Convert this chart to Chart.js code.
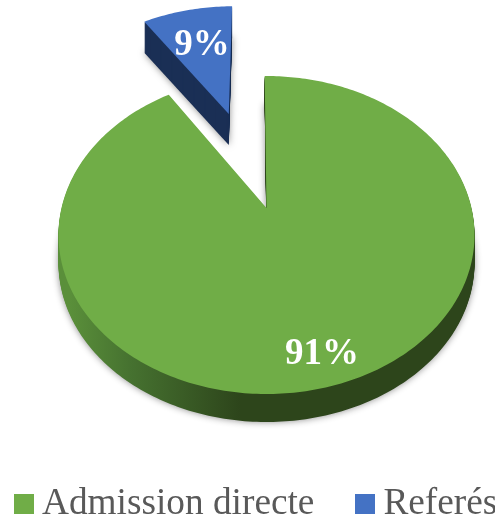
<!DOCTYPE html>
<html>
<head>
<meta charset="utf-8">
<script src="https://cdn.jsdelivr.net/npm/chart.js@4"></script>
<style>
  html, body { margin: 0; background: #fff; overflow: hidden; width: 495px; height: 519px; }
  #wrap { position: relative; width: 495px; height: 519px; overflow: hidden; }
  #legend { position: absolute; left: 14px; top: 481px; display: flex; white-space: nowrap;
            font: 37.3px "Liberation Serif", serif; color: #595959; line-height: 42px; }
  #legend .item { display: flex; align-items: center; margin-right: 41px; }
  #legend .box { width: 20px; height: 20px; margin-right: 8px; position: relative; top: 2px; }
</style>
</head>
<body>
<div id="wrap">
  <canvas id="pie" width="495" height="519"></canvas>
  <div id="legend"></div>
</div>
<script>
const categories = ["Admission directe", "Referés"];
const shares = [91, 9];
const faceColors = ["#70ad47", "#4472c4"];
const exploded = [0, 71];
const labelDistance = [0.838, 0.66];
const labelNudge = [-2, 2];
const thickness = [28, 31];

// tilted disc with a little perspective, the far side shrinks
const tilt = { halfWidth: 205, depthScale: 154.4, persp: 0.17 };

function project(arc, u, v) {
  const w = 1 - tilt.persp * v;
  return [arc.x + tilt.halfWidth * u / w, arc.y + tilt.depthScale * v / w];
}

function tracePath(ctx, arc, dy) {
  const r = arc.outerRadius;
  const mid = (arc.startAngle + arc.endAngle) / 2;
  const off = arc.options.offset / r;
  const ox = Math.cos(mid) * off;
  const oy = Math.sin(mid) * off;
  const tip = project(arc, ox, oy);
  ctx.beginPath();
  ctx.moveTo(tip[0], tip[1] + dy);
  const steps = Math.ceil((arc.endAngle - arc.startAngle) * 60);
  for (let i = 0; i <= steps; i++) {
    const a = arc.startAngle + (arc.endAngle - arc.startAngle) * i / steps;
    const p = project(arc, ox + Math.cos(a), oy + Math.sin(a));
    ctx.lineTo(p[0], p[1] + dy);
  }
  ctx.closePath();
}

const tiltedPie = {
  id: "tiltedPie",
  beforeDatasetsDraw(chart) {
    const ctx = chart.ctx;
    const arcs = chart.getDatasetMeta(0).data;

    const sideGreen = ctx.createLinearGradient(70, 0, 240, 0);
    sideGreen.addColorStop(0, "#5a8f3a");
    sideGreen.addColorStop(0.35, "#467230");
    sideGreen.addColorStop(1, "#2d451b");
    const sideColors = [sideGreen, "#1a2f55"];

    arcs.forEach((arc, i) => {
      // soft shadow under the bottom rim
      ctx.save();
      ctx.shadowColor = "rgba(0,0,0,0.45)";
      ctx.shadowBlur = 7;
      tracePath(ctx, arc, thickness[i]);
      ctx.fillStyle = sideColors[i];
      ctx.fill();
      ctx.restore();

      // side wall, swept down from the face
      ctx.fillStyle = sideColors[i];
      for (let dy = thickness[i] - 1; dy > 0; dy--) {
        tracePath(ctx, arc, dy);
        ctx.fill();
      }

      tracePath(ctx, arc, 0);
      ctx.fillStyle = arc.options.backgroundColor;
      ctx.fill();

      // value label on the face
      const mid = (arc.startAngle + arc.endAngle) / 2;
      const rad = arc.options.offset / arc.outerRadius + labelDistance[i];
      const p = project(arc, Math.cos(mid) * rad, Math.sin(mid) * rad);
      ctx.fillStyle = "#fff";
      ctx.font = 'bold 37px "Liberation Serif", serif';
      ctx.textAlign = "center";
      ctx.textBaseline = "middle";
      ctx.fillText(shares[i] + "%", p[0] + labelNudge[i], p[1] + 3);
    });
    return false;
  }
};

const chart = new Chart(document.getElementById("pie"), {
  type: "pie",
  data: {
    labels: categories,
    datasets: [{
      data: shares,
      backgroundColor: faceColors,
      offset: exploded,
      borderWidth: 0
    }]
  },
  options: {
    responsive: false,
    animation: false,
    radius: 100,
    rotation: -0.6,
    layout: { padding: { left: 38, bottom: 103 } },
    plugins: { legend: { display: false }, tooltip: { enabled: false } }
  },
  plugins: [tiltedPie]
});

// legend built from the chart's own label items
const legendEl = document.getElementById("legend");
chart.options.plugins.legend.labels.generateLabels(chart).forEach(item => {
  const row = document.createElement("div");
  row.className = "item";
  row.innerHTML = `<span class="box" style="background:${item.fillStyle}"></span><span>${item.text}</span>`;
  legendEl.appendChild(row);
});
</script>
</body>
</html>
